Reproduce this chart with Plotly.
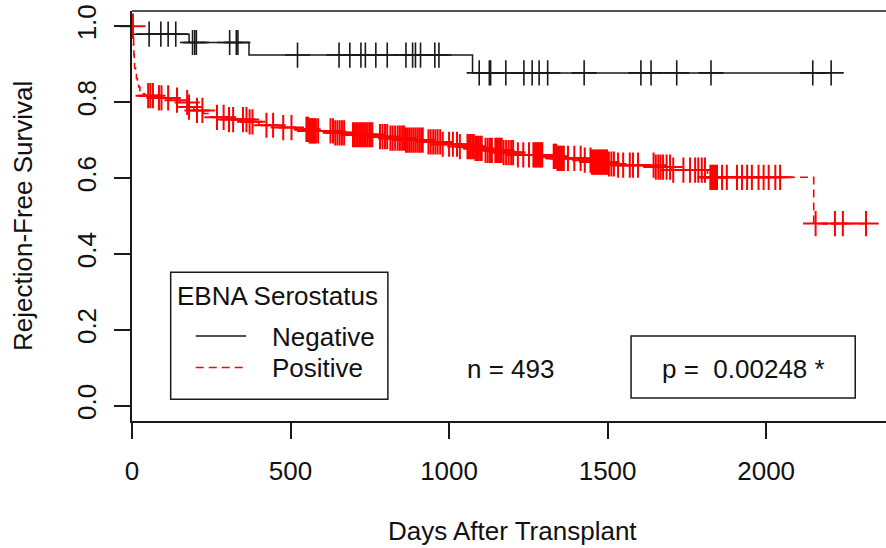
import numpy as np
import plotly.graph_objects as go

# ---- Kaplan-Meier estimates (days after transplant, rejection-free survival) ----
# EBNA-negative recipients
neg_time = [0, 1, 180, 369, 1074, 2205]
neg_surv = [1.0, 0.979, 0.957, 0.924, 0.877, 0.877]
neg_censor = [54, 91, 114, 138, 191, 198, 203, 308, 329, 334, 522, 653, 687, 722,
              736, 769, 805, 864, 885, 894, 910, 955, 968, 1095, 1127, 1131, 1179,
              1236, 1262, 1284, 1311, 1426, 1605, 1637, 1718, 1826, 2147, 2205]

# EBNA-positive recipients
pos_time = [0, 4, 5, 6, 7, 8, 11, 14, 17, 21, 25, 30, 40, 80, 120, 150, 178, 195,
            225, 250, 300, 370, 400, 450, 520, 560, 640, 690, 760, 810, 860, 920,
            980, 1030, 1080, 1110, 1170, 1205, 1300, 1340, 1420, 1450, 1500, 1530,
            1650, 1700, 1815, 2150, 2315]
pos_surv = [1.0, 0.975, 0.95, 0.925, 0.905, 0.89, 0.875, 0.862, 0.85, 0.84, 0.83,
            0.822, 0.817, 0.811, 0.805, 0.799, 0.787, 0.778, 0.770, 0.760, 0.754,
            0.748, 0.739, 0.733, 0.728, 0.724, 0.719, 0.714, 0.709, 0.705, 0.700,
            0.695, 0.689, 0.683, 0.678, 0.673, 0.667, 0.661, 0.657, 0.652, 0.647,
            0.642, 0.637, 0.634, 0.629, 0.621, 0.602, 0.480, 0.480]
pos_censor = [3, 51, 58, 66, 85, 93, 114, 142, 174, 180, 205, 222, 268, 289, 306, 319,
              350, 361, 371, 380, 424, 445, 477, 503,
              550, 553, 556, 560, 564, 568, 572, 576, 580, 587,
              626, 634, 641, 648, 655, 662, 669,
              697, 702, 707, 712, 717, 722, 727, 732, 737, 742, 748, 753, 758,
              782, 790, 798, 805, 815, 822, 830, 838, 845,
              852, 858, 864, 870, 876, 882, 888, 894, 900, 906, 912, 917,
              935, 942, 950, 957, 964, 972, 980, 1000, 1012, 1025, 1034,
              1058, 1063, 1068, 1073, 1078, 1083, 1088, 1093, 1098, 1103,
              1115, 1122, 1129, 1135, 1146, 1150, 1154, 1158, 1162, 1166,
              1172, 1180, 1188, 1196, 1202, 1217, 1234, 1252,
              1266, 1270, 1274, 1278, 1282, 1286, 1290, 1294,
              1330, 1334, 1338, 1342, 1346, 1350, 1354, 1358, 1362,
              1375, 1395, 1415, 1428,
              1446, 1450, 1454, 1458, 1462, 1466, 1470, 1474, 1478, 1482, 1486,
              1490, 1494, 1498, 1504, 1512, 1520,
              1533, 1549, 1570, 1580, 1596, 1645, 1652, 1660, 1667, 1675, 1686, 1697,
              1707, 1739, 1760, 1776, 1786, 1797, 1807,
              1824, 1828, 1832, 1836, 1840, 1845, 1861, 1876,
              1908, 1924, 1940, 1955, 1976, 1992, 2008, 2029, 2044,
              2156, 2217, 2242, 2315]

x_ticks = [0, 500, 1000, 1500, 2000]
y_ticks = [0.0, 0.2, 0.4, 0.6, 0.8, 1.0]
y_ticklabels = ["0.0", "0.2", "0.4", "0.6", "0.8", "1.0"]

group_names = ["Negative", "Positive"]
legend_title = "EBNA Serostatus"
n_label = "n = 493"
p_label = "p = \u00a00.00248 *"

FONT = "Arial, Liberation Sans, sans-serif"
FS = 26
INK = "#1a1a1a"
RED = "#ff0000"


def surv_at(times, surv, t):
    """Value of a right-continuous step function at the given times."""
    idx = np.searchsorted(np.asarray(times), np.asarray(t), side="right") - 1
    return np.asarray(surv)[idx]


fig = go.Figure()

# survival curves
fig.add_trace(go.Scatter(x=neg_time, y=neg_surv, mode="lines", line_shape="hv",
                         line=dict(color=INK, width=1.5), name=group_names[0]))
fig.add_trace(go.Scatter(x=pos_time, y=pos_surv, mode="lines", line_shape="hv",
                         line=dict(color=RED, width=1.6, dash="8px,5px"),
                         name=group_names[1]))

# censoring marks
fig.add_trace(go.Scatter(x=neg_censor, y=surv_at(neg_time, neg_surv, neg_censor),
                         mode="markers", cliponaxis=False,
                         marker=dict(symbol="cross-thin", size=18,
                                     line=dict(color=INK, width=1.6))))
fig.add_trace(go.Scatter(x=pos_censor, y=surv_at(pos_time, pos_surv, pos_censor),
                         mode="markers", cliponaxis=False,
                         marker=dict(symbol="cross-thin", size=18,
                                     line=dict(color=RED, width=2))))

# legend block drawn in user coordinates
fig.add_shape(type="rect", xref="x", yref="y", x0=122, x1=807, y0=0.0176, y1=0.352,
              line=dict(color=INK, width=1.5))
fig.add_shape(type="line", xref="x", yref="y", x0=201, x1=360, y0=0.1836, y1=0.1836,
              line=dict(color=INK, width=1.5))
fig.add_shape(type="line", xref="x", yref="y", x0=201, x1=360, y0=0.101, y1=0.101,
              line=dict(color=RED, width=1.5, dash="8px,5px"))
# p-value box
fig.add_shape(type="rect", xref="x", yref="y", x0=1574, x1=2281, y0=0.0203, y1=0.1836,
              line=dict(color=INK, width=1.5))
# top edge of the plot frame
fig.add_shape(type="line", xref="paper", yref="paper", x0=0, x1=1, y0=1, y1=1,
              line=dict(color=INK, width=1.5))

txt = dict(family=FONT, size=FS, color="#111")
ann = [
    dict(x=458, y=0.289, text=legend_title, xanchor="center"),
    dict(x=434, y=0.181, text=group_names[0], xanchor="left"),
    dict(x=434, y=0.100, text=group_names[1], xanchor="left"),
    dict(x=1195, y=0.097, text=n_label, xanchor="center"),
    dict(x=1927, y=0.097, text=p_label, xanchor="center"),
]
for a in ann:
    fig.add_annotation(xref="x", yref="y", yanchor="middle", showarrow=False,
                       font=txt, **a)

# axis titles
fig.add_annotation(xref="paper", yref="paper", x=0.5046, y=0, yshift=-110,
                   text="Days After Transplant", showarrow=False,
                   xanchor="center", yanchor="middle", font=txt)
fig.add_annotation(xref="paper", yref="paper", x=0, xshift=-109, y=0.5,
                   text="Rejection-Free Survival", textangle=-90, showarrow=False,
                   xanchor="center", yanchor="middle", font=txt)

axis_common = dict(showgrid=False, zeroline=False, showline=True, linecolor=INK,
                   linewidth=1.5, ticks="outside", ticklen=16, tickwidth=1.5,
                   tickcolor=INK, tickfont=txt)
fig.update_xaxes(range=[0, 2378], tickvals=x_ticks, ticklabelstandoff=10,
                 **axis_common)
fig.update_yaxes(range=[-0.04, 1.04], tickvals=y_ticks, ticktext=y_ticklabels,
                 tickangle=-90, ticklabelstandoff=8, **axis_common)

fig.update_layout(width=886, height=548, showlegend=False,
                  margin=dict(l=132, r=0, t=11, b=127, autoexpand=False),
                  plot_bgcolor="white", paper_bgcolor="white")

fig.write_html("out.html")
